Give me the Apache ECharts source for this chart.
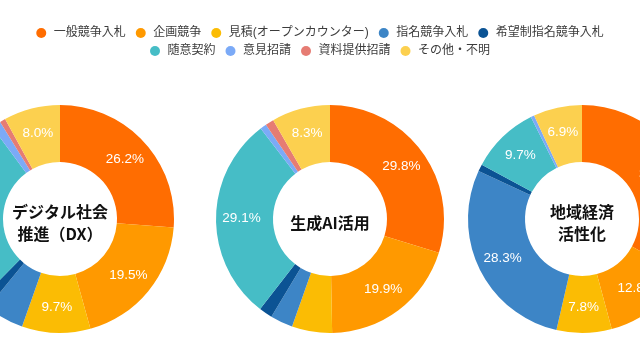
<!DOCTYPE html>
<html><head><meta charset="utf-8">
<script src="https://cdn.jsdelivr.net/npm/echarts@6/dist/echarts.min.js"></script>
<style>html,body{margin:0;padding:0;background:#fff}#c{width:640px;height:361px}</style>
</head><body><div id="c"></div>
<script>
const categories = ['一般競争入札','企画競争','見積(オープンカウンター)','指名競争入札','希望制指名競争入札','随意契約','意見招請','資料提供招請','その他・不明'];
const colors = ['#FF6D01','#FF9900','#FBBC04','#3D85C6','#0B5394','#46BDC6','#7BAAF7','#E67C73','#FCD04F'];
const chartTitles = ['デジタル社会\n推進（DX）','生成AI活用','地域経済\n活性化'];
const valuesDX = [26.2,19.5,9.7,5.5,1.5,27.5,1.3,0.8,8.0];
const valuesAI = [29.8,19.9,5.7,3.2,1.9,29.1,0.9,1.2,8.3];
const valuesRegion = [33.0,12.8,7.8,28.3,1.0,9.7,0.5,0.0,6.9];
const allValues = [valuesDX, valuesAI, valuesRegion];
const centersX = [60,330,582];
const cy = 219;
const font = '"Liberation Sans","Noto Sans CJK JP",sans-serif';

const chart = echarts.init(document.getElementById('c'));
const series = allValues.map((vals,i)=>({
  type:'pie',
  center:[centersX[i],cy],
  radius:[57,114],
  startAngle:90,
  clockwise:true,
  avoidLabelOverlap:false,
  silent:true,
  label:{show:true,position:'inside',color:'#fff',fontSize:13.5,fontFamily:font,
    formatter:p=>p.value>=6?p.value.toFixed(1)+'%':''},
  labelLine:{show:false},
  itemStyle:{borderWidth:0},
  data:categories.map((n,k)=>({name:n,value:vals[k],itemStyle:{color:colors[k]}}))
}));
const graphics = chartTitles.map((t,i)=>({
  type:'text',x:centersX[i],y:cy+4,
  style:{text:t,fill:'#111',font:'bold 16px "Noto Sans CJK JP",sans-serif',align:'center',verticalAlign:'middle',lineHeight:22}
}));
const legendBase = {left:'center',icon:'circle',itemWidth:15,itemHeight:10,itemGap:10,
  textStyle:{fontSize:12,color:'#3c3c3c',fontFamily:font}};
chart.setOption({
  animation:false,
  color:colors,
  legend:[
    Object.assign({},legendBase,{top:22,data:categories.slice(0,5)}),
    Object.assign({},legendBase,{top:40,data:categories.slice(5)})
  ],
  series:series,
  graphic:graphics
});
</script></body></html>
